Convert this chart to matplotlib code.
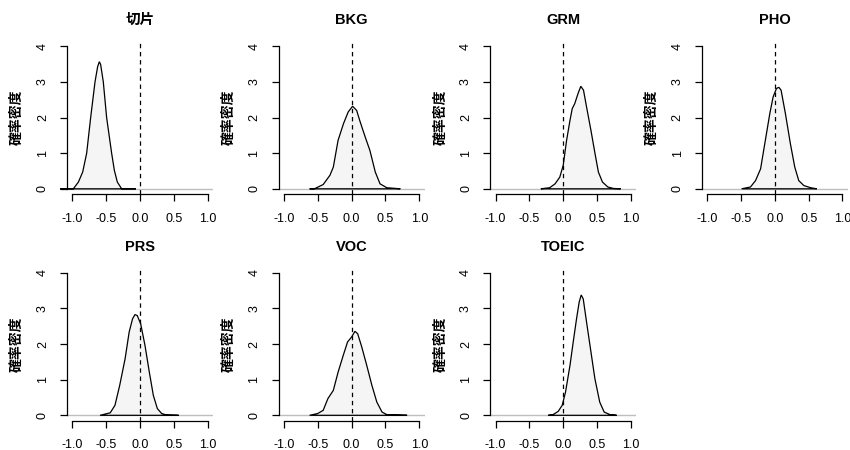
import matplotlib
matplotlib.use("Agg")
import matplotlib.pyplot as plt

plt.rcParams['font.family'] = ['Liberation Sans', 'Noto Sans CJK JP', 'DejaVu Sans']
plt.rcParams['axes.unicode_minus'] = False

# posterior densities (x, density)
titles = ['切片', 'BKG', 'GRM', 'PHO', 'PRS', 'VOC', 'TOEIC']

x_int = [-1.18, -0.985, -0.91, -0.847, -0.788, -0.729, -0.665, -0.626, -0.601,
         -0.581, -0.542, -0.493, -0.419, -0.379, -0.335, -0.271, -0.06]
d_int = [0, 0, 0.19, 0.47, 1.0, 2.0, 3.0, 3.43, 3.57, 3.49, 3.0, 2.0, 1.0,
         0.52, 0.19, 0, 0]

x_bkg = [-0.62, -0.55, -0.42, -0.32, -0.27, -0.2, -0.12, -0.05, 0.015, 0.075,
         0.12, 0.2, 0.27, 0.35, 0.42, 0.52, 0.72]
d_bkg = [0, 0, 0.12, 0.38, 0.61, 1.36, 1.83, 2.16, 2.32, 2.2, 1.92, 1.46,
         1.08, 0.47, 0.14, 0.03, 0]

x_grm = [-0.33, -0.2, -0.12, -0.05, 0.0, 0.05, 0.1, 0.133, 0.17, 0.22, 0.26,
         0.3, 0.345, 0.41, 0.47, 0.52, 0.58, 0.66, 0.74, 0.85]
d_grm = [0, 0.03, 0.14, 0.33, 0.66, 1.36, 1.92, 2.25, 2.39, 2.68, 2.88, 2.77,
         2.3, 1.64, 0.99, 0.47, 0.19, 0.05, 0.01, 0]

x_pho = [-0.49, -0.36, -0.285, -0.21, -0.14, -0.074, -0.025, 0.025, 0.06,
         0.093, 0.157, 0.23, 0.295, 0.354, 0.43, 0.53, 0.62]
d_pho = [0, 0.05, 0.23, 0.56, 1.36, 2.11, 2.58, 2.82, 2.85, 2.77, 2.11, 1.27,
         0.61, 0.23, 0.09, 0.03, 0]

x_prs = [-0.59, -0.44, -0.37, -0.3, -0.22, -0.16, -0.11, -0.074, -0.04, 0.01,
         0.074, 0.138, 0.197, 0.256, 0.32, 0.39, 0.57]
d_prs = [0, 0.07, 0.28, 0.84, 1.59, 2.34, 2.71, 2.83, 2.8, 2.57, 1.96, 1.21,
         0.56, 0.19, 0.05, 0.01, 0]

x_voc = [-0.62, -0.5, -0.42, -0.35, -0.27, -0.2, -0.124, -0.06, 0.0, 0.05,
         0.09, 0.15, 0.224, 0.3, 0.373, 0.45, 0.52, 0.82]
d_voc = [0, 0.05, 0.14, 0.47, 0.7, 1.21, 1.68, 2.06, 2.2, 2.36, 2.29, 1.92,
         1.4, 0.84, 0.37, 0.09, 0.02, 0]

x_toeic = [-0.22, -0.15, -0.074, -0.015, 0.034, 0.1, 0.148, 0.197, 0.236,
           0.266, 0.296, 0.345, 0.41, 0.468, 0.54, 0.606, 0.69, 0.79]
d_toeic = [0, 0.02, 0.11, 0.28, 0.65, 1.4, 2.06, 2.71, 3.18, 3.38, 3.27,
           2.62, 1.78, 1.03, 0.37, 0.09, 0.02, 0]

xs = [x_int, x_bkg, x_grm, x_pho, x_prs, x_voc, x_toeic]
ds = [d_int, d_bkg, d_grm, d_pho, d_prs, d_voc, d_toeic]

x_ticks = [-1.0, -0.5, 0.0, 0.5, 1.0]
x_labels = ['-1.0', '-0.5', '0.0', '0.5', '1.0']
y_ticks = [0, 1, 2, 3, 4]

W, H = 850, 450
fig = plt.figure(figsize=(W / 100, H / 100), dpi=100, facecolor='white')

col_left = [66.9, 278.5, 490.1, 701.7]
row_bottom = [194.5, 421.0]
ax_w, ax_h = 146.2, 153.8

for i, (title, x, d) in enumerate(zip(titles, xs, ds)):
    r, c = divmod(i, 4)
    ax = fig.add_axes([col_left[c] / W, (H - row_bottom[r]) / H, ax_w / W, ax_h / H])
    ax.set_xlim(-1.08, 1.08)
    ax.set_ylim(-0.16, 4.16)

    # zero line, density polygon, reference line at 0
    ax.axhline(0, color='#BEBEBE', lw=1.0, zorder=1)
    ax.fill(x, d, facecolor='#F5F5F5', edgecolor='black', lw=0.9,
            zorder=2, clip_on=False)
    ax.axvline(0, color='black', lw=0.9, ls=(0, (3.5, 3)), zorder=3)

    for s in ['top', 'right']:
        ax.spines[s].set_visible(False)
    ax.spines['left'].set_bounds(0, 4)
    ax.spines['bottom'].set_bounds(-1, 1)
    for s in ['left', 'bottom']:
        ax.spines[s].set_linewidth(0.9)

    ax.set_xticks(x_ticks)
    ax.set_xticklabels(x_labels)
    ax.set_yticks(y_ticks)
    ax.tick_params(length=5, width=0.9, pad=8, labelsize=9, colors='black')
    ax.tick_params(axis='y', labelrotation=90)
    for lbl in ax.get_yticklabels():
        lbl.set_va('center')

    ax.set_title(title, fontsize=10.5, fontweight='bold', pad=12)
    ax.text(-0.34, 0.5, '確率密度', transform=ax.transAxes, rotation=90,
            ha='center', va='center', fontsize=10, fontweight='bold',
            family=['Noto Sans CJK JP', 'DejaVu Sans'])

fig.savefig('out.png', dpi=100, facecolor='white')
